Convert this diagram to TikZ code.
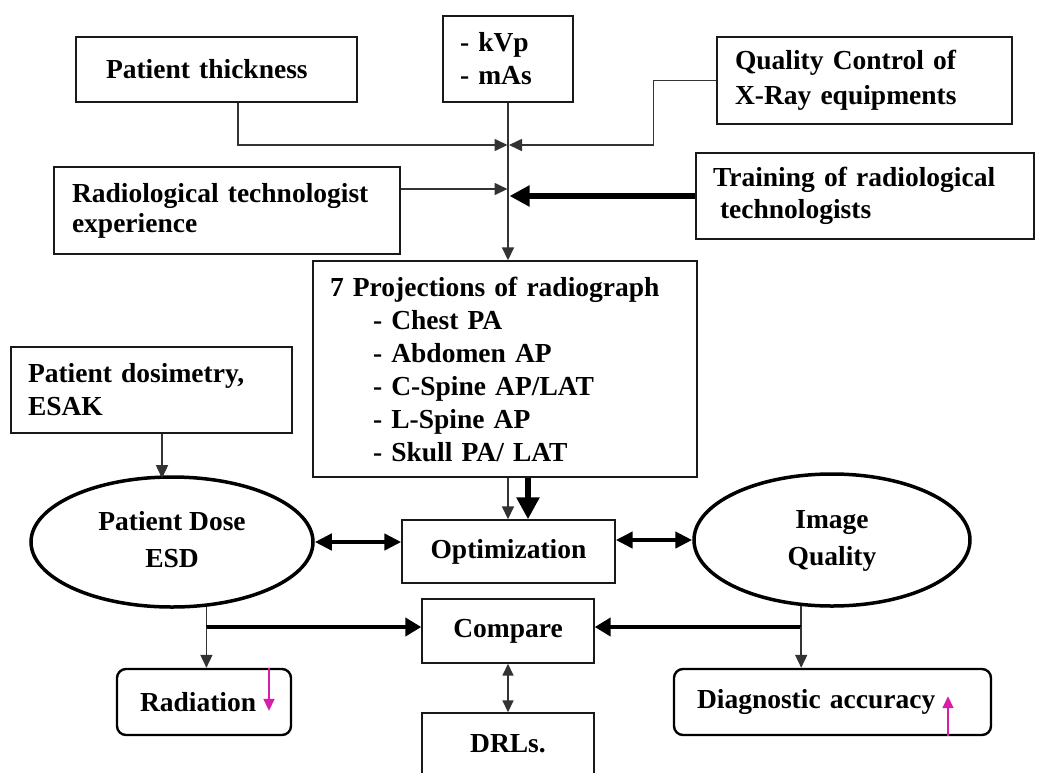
\documentclass[tikz,border=0pt]{standalone}
\usepackage{fontspec}
\setmainfont{Liberation Serif}
\usetikzlibrary{shapes.geometric,arrows.meta,calc}
\definecolor{magarrow}{RGB}{214,30,170}
\begin{document}
\begin{tikzpicture}[x=1pt,y=-1pt,
  txt/.style={font=\fontsize{27.5}{33}\selectfont\bfseries},
  box/.style={txt,draw=black!90,line width=1.4pt,inner ysep=0pt,align=left},
  cbox/.style={txt,draw=black!90,line width=1.4pt,inner sep=0pt,align=center},
  rbox/.style={txt,draw=black,line width=2.4pt,rounded corners=9pt,inner ysep=0pt,align=left},
  ell/.style={txt,ellipse,draw=black,line width=3.5pt,inner sep=0pt,align=center},
  thinline/.style={draw=black!80,line width=1.6pt},
  thinarrow/.style={thinline,-{Triangle[length=13pt,width=12pt]}},
  thindbl/.style={thinline,line width=1.6pt,{Triangle[length=12pt,width=11pt]}-{Triangle[length=12pt,width=11pt]}},
  trainarrow/.style={draw=black,line width=6pt,-{Triangle[length=20pt,width=20pt]}},
  bigarrow/.style={draw=black,line width=6pt,-{Triangle[length=22pt,width=22pt]}},
  dblarrow/.style={draw=black,line width=4.5pt,{Triangle[length=17pt,width=16pt]}-{Triangle[length=17pt,width=16pt]}},
  medarrow/.style={draw=black,line width=4.5pt,-{Triangle[length=16pt,width=18pt]}},
  magar/.style={draw=magarrow,line width=1.6pt,-{Triangle[length=12pt,width=11pt]}}
]
\clip (0,0) rectangle (1037,772);
\fill[white] (0,0) rectangle (1037,772);

% top boxes
\node[box,minimum width=281pt,minimum height=65pt,inner xsep=30pt,text width=221pt] (pt) at (216.5,69.5) {Patient thickness};
\node[box,minimum width=130pt,minimum height=86pt,inner xsep=17pt,text width=96pt] (kvp) at (508,59) {- kVp\\- mAs};
\node[box,font=\fontsize{27.5}{35}\selectfont\bfseries,minimum width=295pt,minimum height=87pt,inner xsep=18pt,text width=259pt] (qc) at (864.5,80.5) {Quality Control of\\X-Ray equipments};
\node[box,font=\fontsize{27.5}{30}\selectfont\bfseries,minimum width=346pt,minimum height=87pt,inner xsep=18pt,text width=310pt] (rt) at (227,210.5) {Radiological technologist\\experience};
\node[box,font=\fontsize{27.5}{32}\selectfont\bfseries,minimum width=338pt,minimum height=86pt,inner xsep=17pt,text width=304pt] (tr) at (865,196) {Training of radiological\\\hspace*{7pt}technologists};

% projections
\node[box,minimum width=384pt,minimum height=216pt,inner xsep=17pt,text width=350pt] (proj) at (505,369)
  {7 Projections of radiograph\\
   \hspace*{43pt}- Chest PA\\
   \hspace*{43pt}- Abdomen AP\\
   \hspace*{43pt}- C-Spine AP/LAT\\
   \hspace*{43pt}- L-Spine AP\\
   \hspace*{43pt}- Skull PA/ LAT};

\node[box,minimum width=281pt,minimum height=86pt,inner xsep=17pt,text width=247pt] (dos) at (151.5,390) {Patient dosimetry,\\ESAK};

% middle row
\node[ell,font=\fontsize{27.5}{35}\selectfont\bfseries,minimum width=282pt,minimum height=130pt] (pd) at (172,542) {\raisebox{5pt}{\begin{tabular}{@{}c@{}}Patient Dose\\[2pt]ESD\end{tabular}}};
\node[cbox,minimum width=213pt,minimum height=63pt] (opt) at (508.5,551.5) {Optimization};
\node[ell,font=\fontsize{27.5}{35}\selectfont\bfseries,minimum width=276pt,minimum height=132pt] (iq) at (832,540) {\raisebox{3pt}{\begin{tabular}{@{}c@{}}Image\\[2pt]Quality\end{tabular}}};

% bottom
\node[cbox,minimum width=172pt,minimum height=64pt] (cmp) at (508,631) {Compare};
\node[cbox,minimum width=172pt,minimum height=62pt] (drl) at (508,744) {DRLs.};
\node[rbox,minimum width=174pt,minimum height=66pt,inner xsep=23pt,text width=128pt] (rad) at (204,702) {Radiation};
\node[rbox,minimum width=317pt,minimum height=66pt,inner xsep=23pt,text width=271pt] (diag) at (832.5,702) {Diagnostic accuracy};

% connectors top
\coordinate (j1) at (kvp.south |- 0,145);
\coordinate (j2a) at (kvp.south |- 0,189);
\coordinate (j2b) at ($(kvp.south |- 0,196)+(1.5,0)$);
\draw[thinarrow] (kvp.south) -- (kvp.south |- proj.north);
\draw[thinarrow] ([xshift=21.5pt]pt.south) |- ($(j1)+(-0.5,0)$);
\draw[thinarrow] (qc.west) -- ++(-63,0) |- ($(j1)+(1,0)$);
\draw[thinarrow] (rt.east |- j2a) -- ($(j2a)+(-0.5,0)$);
\draw[trainarrow] (tr.west) -- (j2b);

% projections to optimization
\draw[thinarrow] (proj.south -| kvp.south) -- (kvp.south |- opt.north);
\draw[bigarrow] ([xshift=23pt]proj.south) -- ([xshift=23pt]proj.south |- opt.north);

% dosimetry to patient dose
\draw[thinarrow] ([xshift=10.5pt]dos.south) -- ++(0,44.5);

% optimization links
\draw[dblarrow] (pd.east) -- (pd.east -| opt.west);
\draw[dblarrow] (opt.east |- iq.west) -- (iq.west);

% compare links
\coordinate (hl) at (0,627);
\draw[thinline] (pd.-62.4) -- (pd.-62.4 |- hl) coordinate (jl);
\draw[medarrow] (jl) -- (jl -| cmp.west);
\draw[thinarrow] (jl) -- (jl |- rad.north);
\draw[thinline] (iq.-115) -- (iq.-115 |- hl) coordinate (jr);
\draw[medarrow] (jr) -- (jr -| cmp.east);
\draw[thinarrow] (jr) -- (jr |- diag.north);
\draw[thindbl] (cmp.south) -- (drl.north);

% magenta indicators
\draw[magar] ([xshift=65pt]rad.north) -- ++(0,43);
\draw[magar] ([xshift=115.5pt]diag.south) -- ++(0,-40);
\end{tikzpicture}
\end{document}
